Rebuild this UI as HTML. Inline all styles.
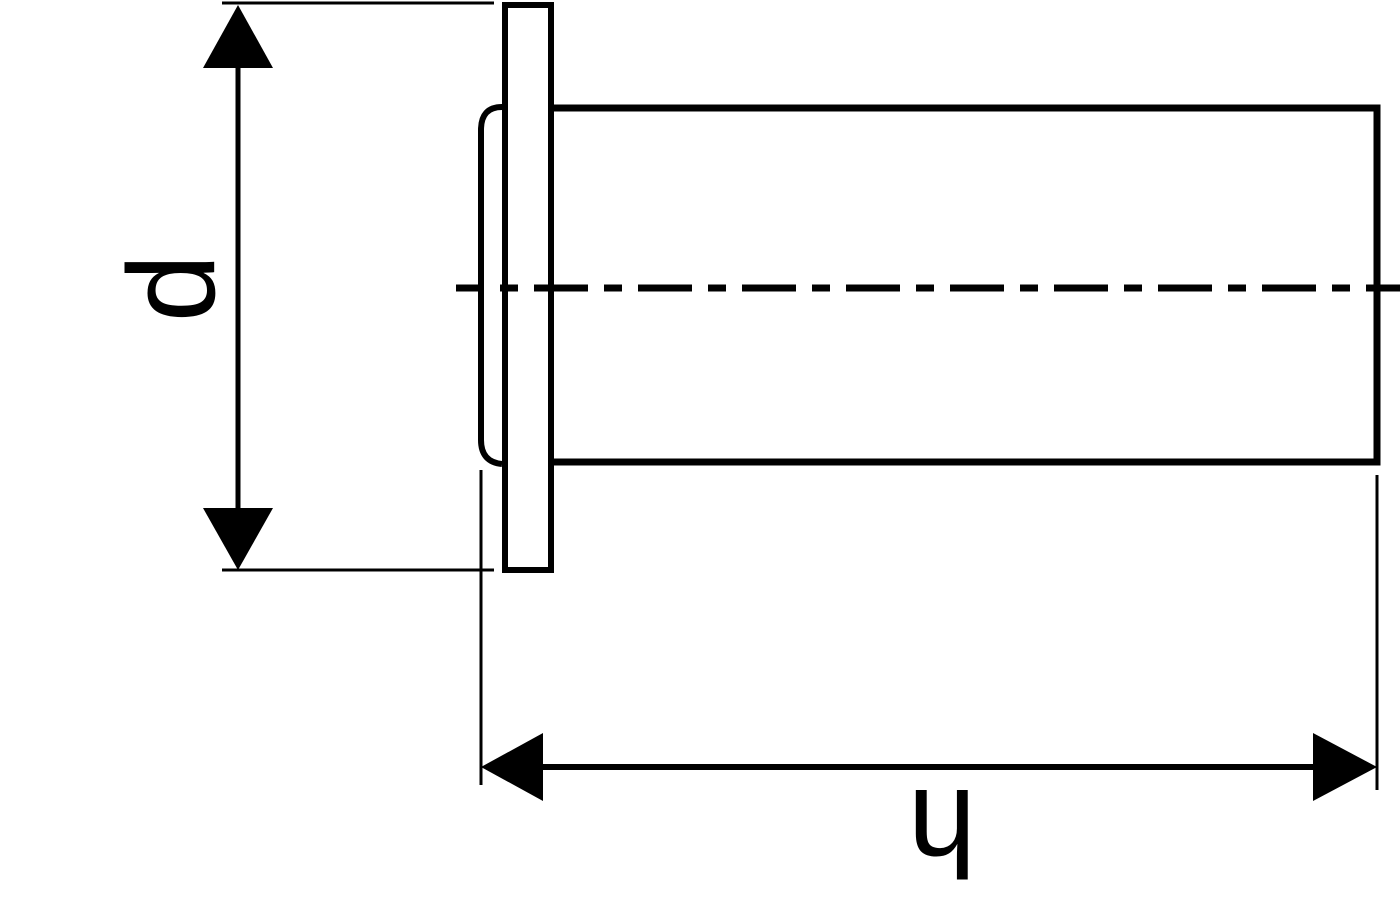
<!DOCTYPE html>
<html><head><style>html,body{margin:0;padding:0;background:#fff}</style></head>
<body>
<svg width="1400" height="900" viewBox="0 0 1400 900" xmlns="http://www.w3.org/2000/svg">
<g fill="none" stroke="#000">
<rect x="505" y="5" width="46" height="565" stroke-width="6"/>
<path d="M551 108 H1377 V462 H551" stroke-width="7"/>
<path d="M502 107 Q481 107 481 130 V440 Q481 462 502 464" stroke-width="6"/>
<line x1="456" y1="288" x2="1400" y2="288" stroke-width="7" stroke-dasharray="54 16 18 16" stroke-dashoffset="26"/>
<line x1="222" y1="3" x2="494" y2="3" stroke-width="3"/>
<line x1="222" y1="570" x2="494" y2="570" stroke-width="3"/>
<line x1="238" y1="40" x2="238" y2="540" stroke-width="5"/>
<line x1="481" y1="470" x2="481" y2="785" stroke-width="3"/>
<line x1="1377" y1="475" x2="1377" y2="790" stroke-width="3"/>
<line x1="520" y1="767" x2="1340" y2="767" stroke-width="6"/>
</g>
<g fill="#000">
<polygon points="238,5 203,68 273,68"/>
<polygon points="238,570 203,508 273,508"/>
<polygon points="481,767 543,733 543,801"/>
<polygon points="1377,767 1313,733 1313,801"/>
</g>
<text x="0" y="0" font-family="Liberation Sans, sans-serif" font-size="123" text-anchor="middle" transform="translate(214,288) rotate(-90)">d</text>
<text x="0" y="0" font-family="Liberation Sans, sans-serif" font-size="123" text-anchor="middle" transform="translate(942,790) rotate(180)">h</text>
</svg>
</body></html>
